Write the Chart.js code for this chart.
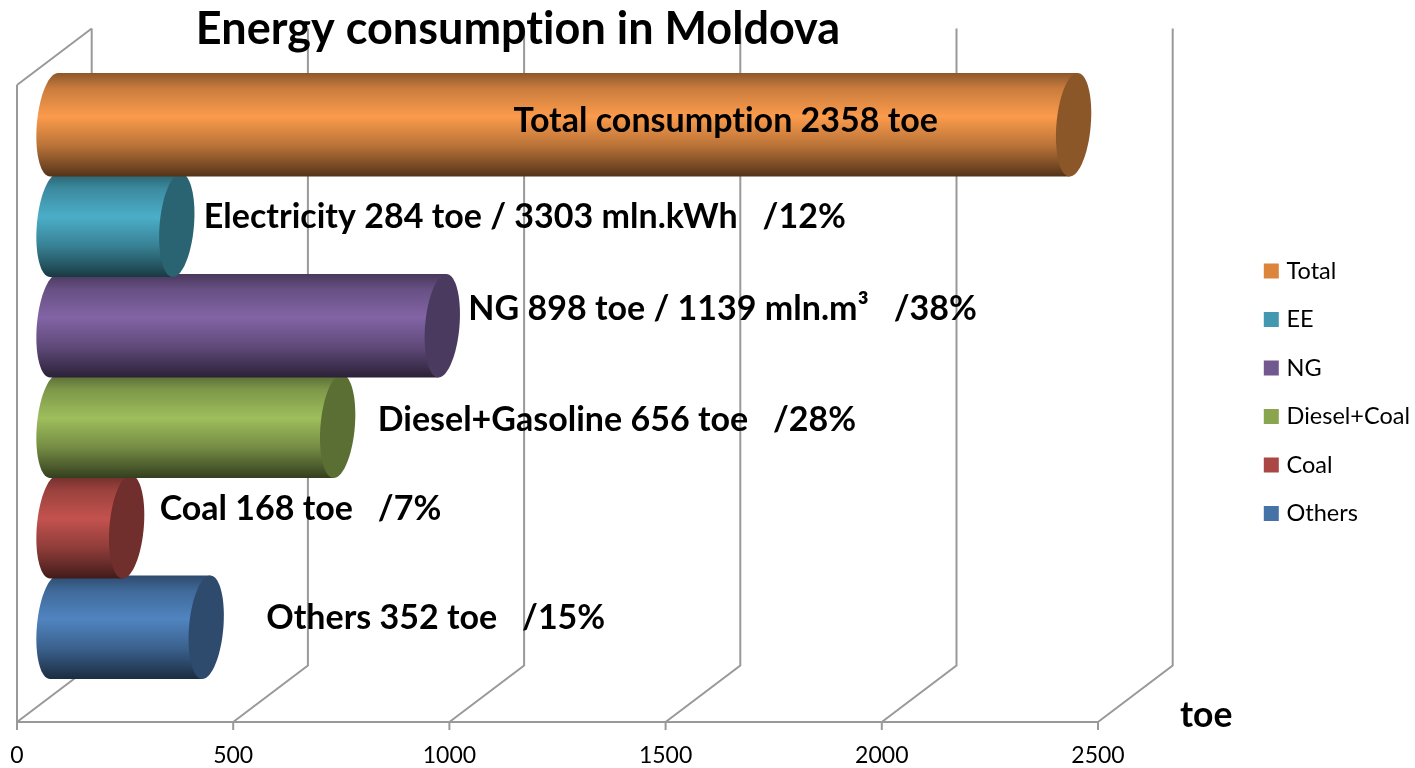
<!DOCTYPE html>
<html>
<head>
<meta charset="utf-8">
<title>Energy consumption in Moldova</title>
<script src="https://cdn.jsdelivr.net/npm/chart.js@4/dist/chart.umd.js"></script>
<style>
  html, body { margin: 0; padding: 0; background: #fff; }
  canvas { display: block; }
</style>
</head>
<body>
<canvas id="chart" width="1415" height="768"></canvas>
<script>
// data
var categories = ['Total', 'EE', 'NG', 'Diesel+Coal', 'Coal', 'Others'];
var values = [2358, 284, 898, 656, 168, 352];
var barTexts = [
  'Total consumption 2358 toe',
  'Electricity 284 toe / 3303 mln.kWh   /12%',
  'NG 898 toe / 1139 mln.m³   /38%',
  'Diesel+Gasoline 656 toe   /28%',
  'Coal 168 toe   /7%',
  'Others 352 toe   /15%'
];
var tickValues = [0, 500, 1000, 1500, 2000, 2500];

// colours
var legendColors = ['#DD843C', '#4198AF', '#71588F', '#89A54E', '#AA4643', '#4572A7'];
var peakColors = [[251, 155, 76], [75, 174, 200], [130, 100, 165], [158, 190, 92], [195, 82, 78], [80, 132, 192]];
var capColors = ['#8B5628', '#2A6372', '#4A3A60', '#5B6E34', '#702E2C', '#2E4B6E'];

// text placement relative to the end of each bar
var labelDx = [-560, 27, 26, 40, 33, 60];
var labelDy = [-4, -8, -17, -6, -18, -9];

// 3d layout
var pxPerUnit = 1081 / 2500;
var barShift = 37;      // bars start this far right of the axis zero
var depthX = 74.7, depthY = -56.5;
var floorY = 722;
var capRx = 17.2, capSkew = 4;
var gridColor = '#999999';
var fontName = 'Lato, "Open Sans", sans-serif';

function shade(c, f) {
  return 'rgb(' + Math.round(c[0] * f) + ',' + Math.round(c[1] * f) + ',' + Math.round(c[2] * f) + ')';
}

// point on the tilted end ellipse, t in radians
function capPoint(cx, cy, ry, t) {
  var s = Math.sin(t), c = Math.cos(t);
  return [cx + capRx * c + capSkew * s, cy - ry * s];
}

function drawCylinder(ctx, el, i) {
  var top = el.y - el.height / 2, bottom = el.y + el.height / 2, ry = el.height / 2;
  var g = ctx.createLinearGradient(0, top, 0, bottom);
  g.addColorStop(0, shade(peakColors[i], 0.56));
  g.addColorStop(0.15, shade(peakColors[i], 0.8));
  g.addColorStop(0.42, shade(peakColors[i], 1));
  g.addColorStop(0.7, shade(peakColors[i], 0.74));
  g.addColorStop(0.9, shade(peakColors[i], 0.47));
  g.addColorStop(1, shade(peakColors[i], 0.33));

  // body, rounded on the left
  ctx.beginPath();
  var p;
  for (var a = 0; a <= 40; a++) {
    p = capPoint(el.base, el.y, ry, Math.PI / 2 + a / 40 * Math.PI);
    if (a === 0) ctx.moveTo(p[0], p[1]); else ctx.lineTo(p[0], p[1]);
  }
  ctx.lineTo(el.x - capSkew, bottom);
  ctx.lineTo(el.x + capSkew, top);
  ctx.closePath();
  ctx.fillStyle = g;
  ctx.fill();

  // end cap
  ctx.beginPath();
  for (var b = 0; b <= 72; b++) {
    p = capPoint(el.x, el.y, ry, b / 72 * Math.PI * 2);
    if (b === 0) ctx.moveTo(p[0], p[1]); else ctx.lineTo(p[0], p[1]);
  }
  ctx.closePath();
  ctx.fillStyle = capColors[i];
  ctx.fill();
}

var cylinderPlugin = {
  id: 'cylinders',
  // walls and floor lines go under the bars
  beforeDatasetsDraw: function (chart) {
    var ctx = chart.ctx, sx = chart.scales.x;
    var x0 = sx.getPixelForValue(0), x1 = sx.getPixelForValue(2500);
    ctx.save();
    ctx.strokeStyle = gridColor;
    ctx.lineWidth = 2;
    ctx.beginPath();
    ctx.moveTo(x0, 85);
    ctx.lineTo(x0, floorY);
    ctx.lineTo(x1, floorY);
    ctx.moveTo(x0, 85);
    ctx.lineTo(x0 + depthX, 85 + depthY);
    tickValues.forEach(function (v) {
      var x = sx.getPixelForValue(v);
      ctx.moveTo(x, floorY);
      ctx.lineTo(x, floorY + 8);
      ctx.moveTo(x, floorY);
      ctx.lineTo(x + depthX, floorY + depthY);
      ctx.lineTo(x + depthX, 85 + depthY);
    });
    ctx.stroke();
    ctx.restore();
  },
  // bars are drawn as cylinders, bottom one first so the upper ones overlap it
  beforeDatasetDraw: function (chart, args) {
    var ctx = chart.ctx, els = args.meta.data;
    ctx.save();
    for (var i = els.length - 1; i >= 0; i--) drawCylinder(ctx, els[i], i);
    ctx.restore();
    return false;
  },
  afterDatasetsDraw: function (chart) {
    var ctx = chart.ctx, els = chart.getDatasetMeta(0).data;
    ctx.save();
    ctx.fillStyle = '#000';
    ctx.textBaseline = 'middle';
    ctx.textAlign = 'left';
    ctx.letterSpacing = '0.01px';   // keeps the "ti" apart, no ligature in the original
    ctx.font = 'bold 34px ' + fontName;
    els.forEach(function (el, i) {
      ctx.fillText(barTexts[i], el.x + labelDx[i], el.y + labelDy[i]);
    });
    ctx.font = 'bold 35.5px ' + fontName;
    ctx.fillText('toe', 1180, 716);
    ctx.textAlign = 'center';
    ctx.font = 'bold 45px ' + fontName;
    ctx.fillText('Energy consumption in Moldova', 518, 29.5);
    ctx.restore();
  }
};

new Chart(document.getElementById('chart'), {
  type: 'bar',
  data: {
    labels: categories,
    datasets: [{
      label: 'toe',
      data: values,
      xAxisID: 'xBars',
      yAxisID: 'y',
      backgroundColor: legendColors,
      barPercentage: 1.03,
      categoryPercentage: 1
    }]
  },
  options: {
    indexAxis: 'y',
    responsive: false,
    animation: false,
    layout: { padding: { top: 74.5, left: 17, bottom: 58, right: -5 } },
    scales: {
      x: {
        type: 'linear',
        position: 'bottom',
        bounds: 'data',
        border: { display: false },
        grid: { display: false },
        ticks: {
          autoSkip: false,
          maxRotation: 0,
          // mirrored labels are not clipped to the short axis box, negative padding drops them below the 3d floor
          mirror: true,
          padding: -92,
          color: '#000',
          font: { family: fontName, size: 23 },
          callback: function (v) { return String(v); }
        },
        afterBuildTicks: function (scale) {
          scale.ticks = tickValues.map(function (v) { return { value: v }; });
          scale.min = 0;
          scale.max = scale.width / pxPerUnit;
        },
        afterFit: function (scale) { scale.height = 32.5; }
      },
      xBars: {
        type: 'linear',
        axis: 'x',
        position: 'bottom',
        display: false,
        bounds: 'data',
        afterBuildTicks: function (scale) {
          scale.min = -barShift / pxPerUnit;
          scale.max = (scale.width - barShift) / pxPerUnit;
        }
      },
      y: { display: false, grid: { display: false } }
    },
    plugins: {
      title: { display: false },
      tooltip: { enabled: false },
      legend: {
        position: 'right',
        labels: {
          usePointStyle: true,
          pointStyle: 'rect',
          boxWidth: 7,
          boxHeight: 15,
          padding: 25,
          color: '#000',
          font: { family: fontName, size: 23.5, lineHeight: 1.2 },
          generateLabels: function () {
            return categories.map(function (name, i) {
              return { text: name, fillStyle: legendColors[i], strokeStyle: legendColors[i], lineWidth: 0, pointStyle: 'rect', index: i };
            });
          }
        }
      }
    }
  },
  plugins: [cylinderPlugin]
});
</script>
</body>
</html>
